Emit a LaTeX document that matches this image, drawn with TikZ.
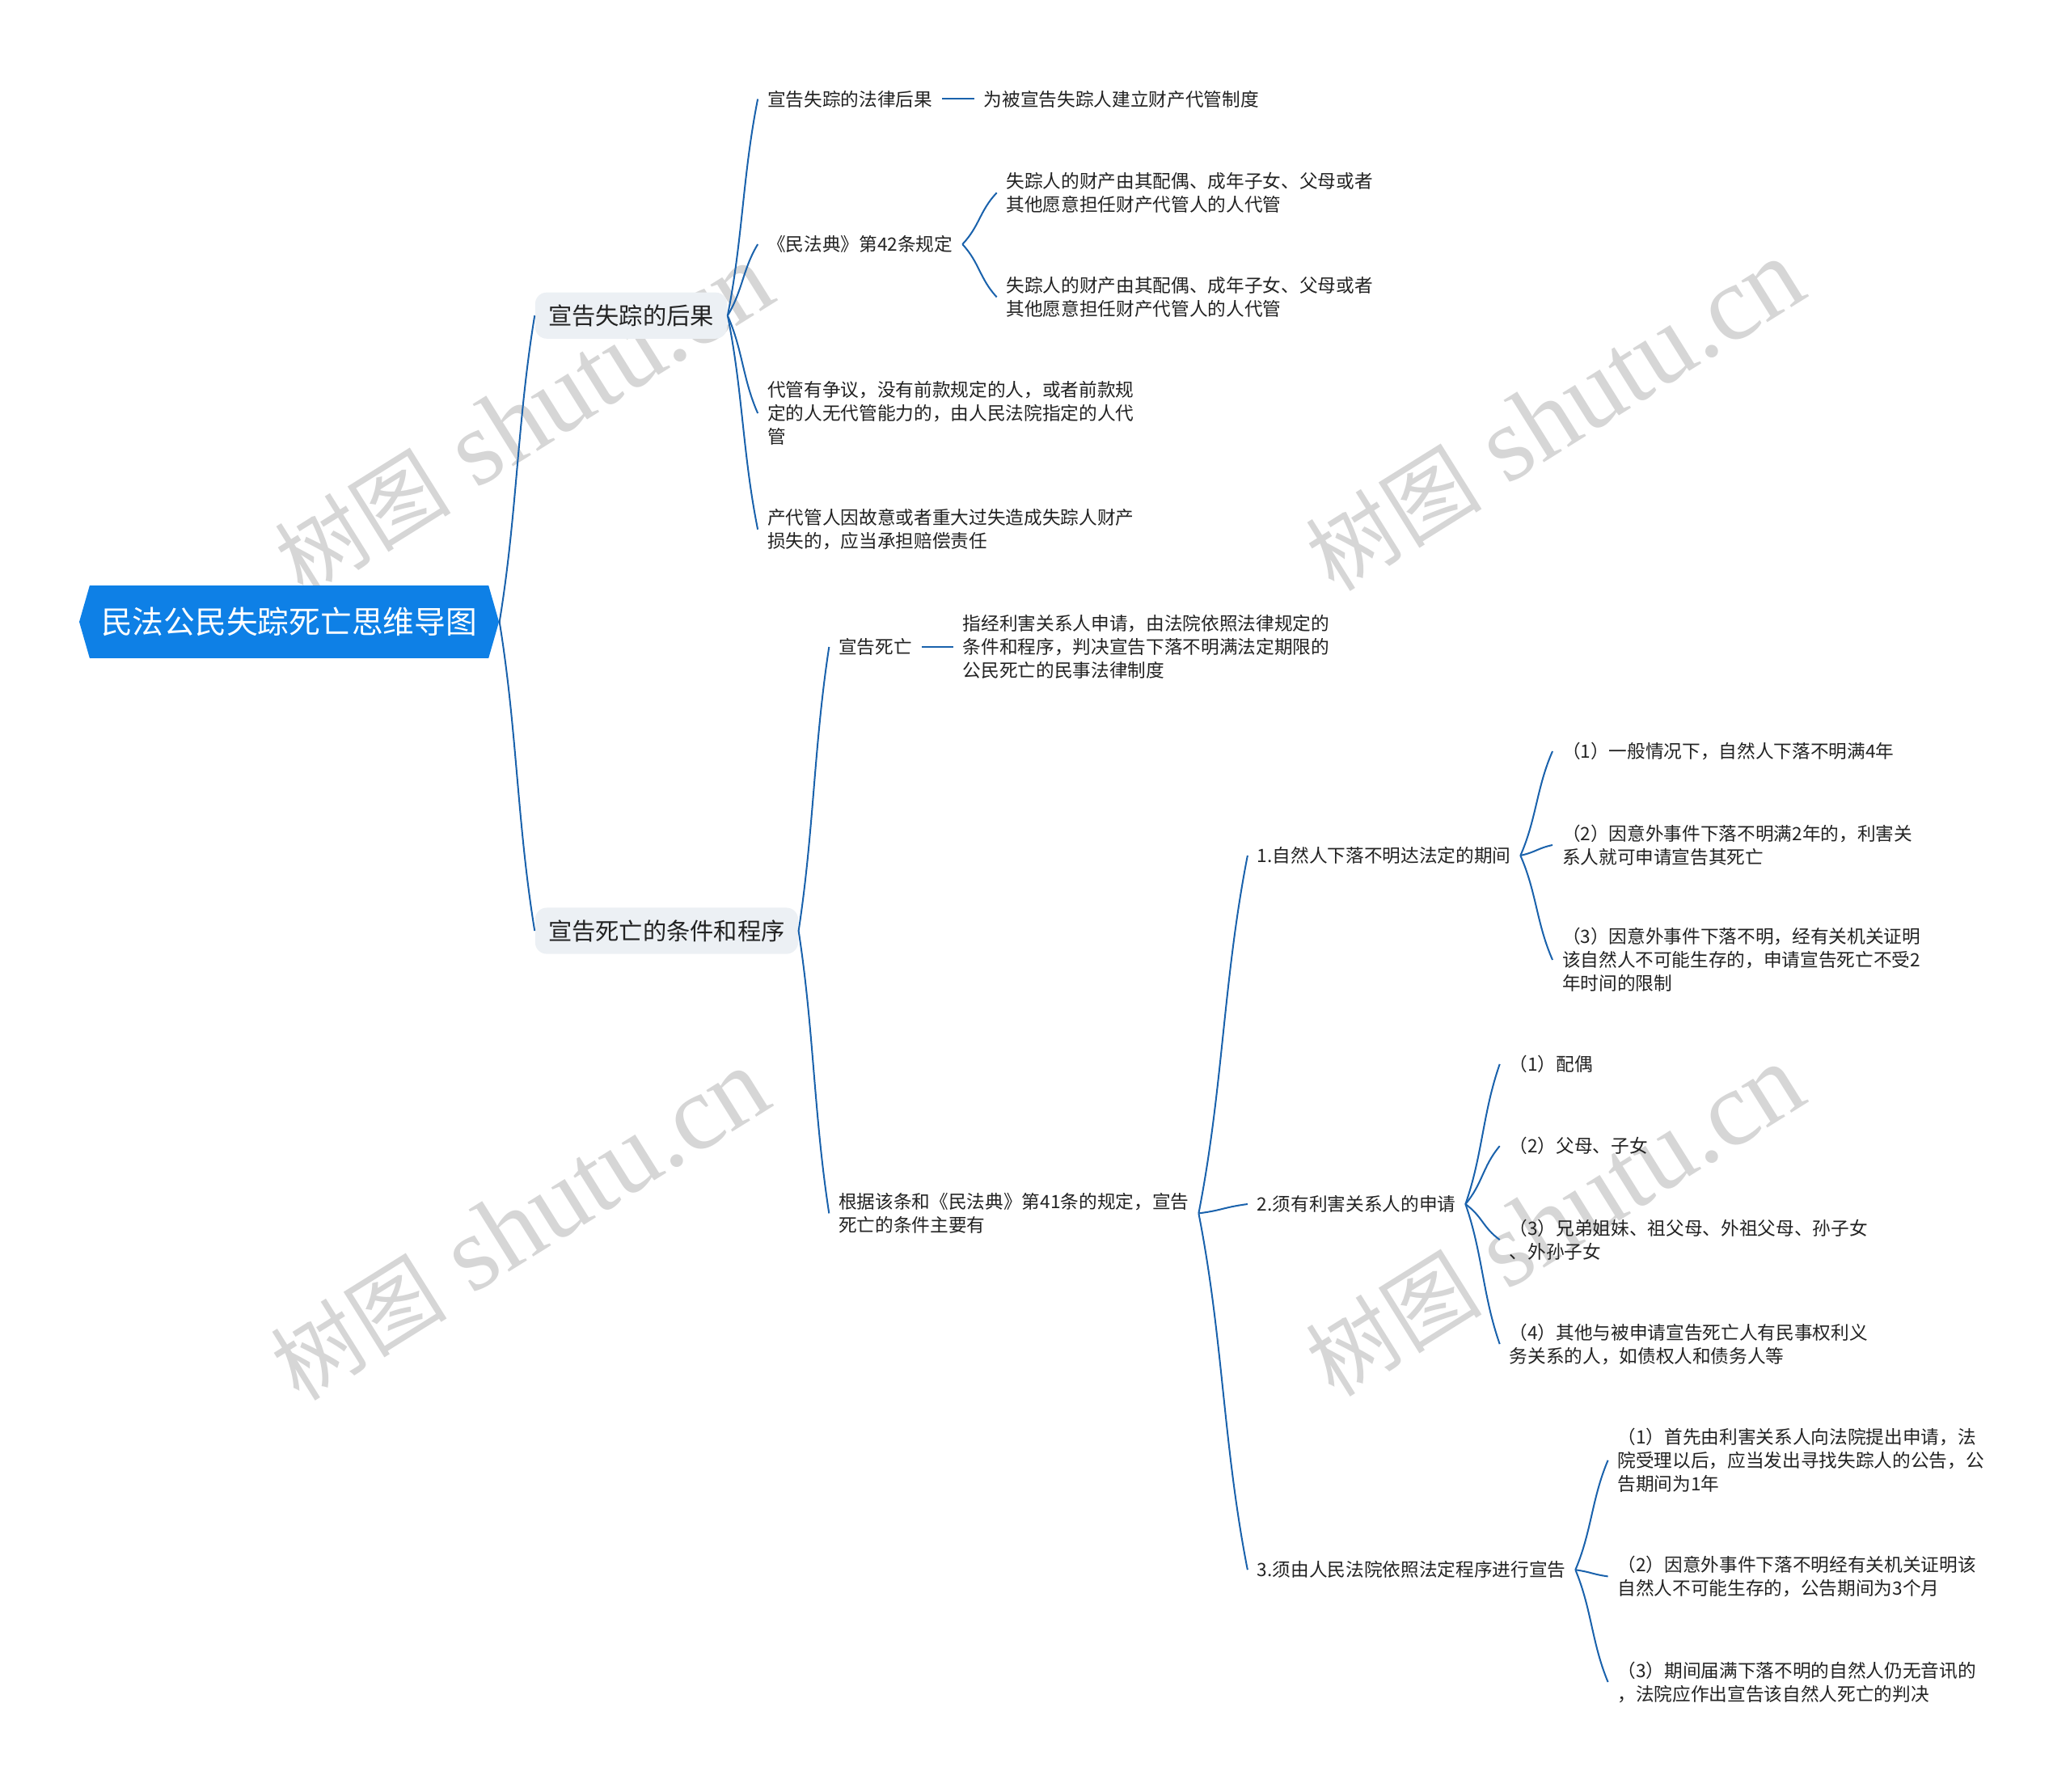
\documentclass[tikz,border=0pt]{standalone}
\usepackage{fontspec}
\usetikzlibrary{shapes.symbols,calc}
\newfontfamily\cjk{Noto Sans CJK SC}
\newfontfamily\wmark{Liberation Serif}
\definecolor{sky}{RGB}{14,128,230}
\definecolor{wire}{RGB}{26,98,172}
\definecolor{mist}{RGB}{236,240,244}
\definecolor{ink}{RGB}{34,34,34}

\tikzset{
  leaf/.style={anchor=west,align=left,inner xsep=0.14cm,inner ysep=2pt,text=ink,
    font=\cjk\fontsize{7.9}{10.1}\selectfont},
  branch/.style={anchor=west,fill=mist,rounded corners=5pt,inner xsep=0.2cm,
    minimum height=0.7cm,text=ink,font=\cjk\fontsize{10.2}{12}\selectfont},
  rootbox/.style={signal,signal to=west and east,signal pointer angle=148,fill=sky,
    text=white,minimum width=6.36cm,minimum height=1.1cm,font=\cjk\fontsize{13.5}{16}\selectfont},
  link/.style={wire,line width=0.7pt,to path={let \p1=(\tikztostart),\p2=(\tikztotarget) in
    .. controls ({\x1+0.5*(\x2-\x1)},{\y1+0.35*(\y2-\y1)})
    and ({\x2-0.5*(\x2-\x1)},{\y2-0.35*(\y2-\y1)}) .. (\tikztotarget)}},
  tie/.style={wire,line width=0.7pt},
  wm/.style={rotate=32,text=black!16,font=\wmark\fontsize{46}{46}\selectfont},
}

\begin{document}
\begin{tikzpicture}[x=0.02cm,y=-0.02cm]
  \useasboundingbox (0,0) rectangle (1568,1357);
  % watermarks
  \foreach \p [count=\i] in {(397,318),(1178,315),(394,928),(1178,925)}
    \node[wm] (wm\i) at \p {{\cjk\fontsize{38}{38}\selectfont 树图} shutu.cn};

  % root and main branches
  \node[rootbox] (root) at (219,471) {民法公民失踪死亡思维导图};
  \node[branch] (lost) at (405,239) {宣告失踪的后果};
  \node[branch] (dead) at (405,705) {宣告死亡的条件和程序};
  \foreach \b in {lost,dead}
    \draw[link] (root.east) to (\b.west);

  % consequences of being declared missing
  \node[leaf] (lostA) at (574,75) {宣告失踪的法律后果};
  \node[leaf] (lostAx) at (738,75) {为被宣告失踪人建立财产代管制度};
  \node[leaf] (lostB) at (574,185) {《民法典》第42条规定};
  \node[leaf] (lostB1) at (755,146) {失踪人的财产由其配偶、成年子女、父母或者\\其他愿意担任财产代管人的人代管};
  \node[leaf] (lostB2) at (755,225) {失踪人的财产由其配偶、成年子女、父母或者\\其他愿意担任财产代管人的人代管};
  \node[leaf] (lostC) at (574,313) {代管有争议，没有前款规定的人，或者前款规\\定的人无代管能力的，由人民法院指定的人代\\管};
  \node[leaf] (lostD) at (574,401) {产代管人因故意或者重大过失造成失踪人财产\\损失的，应当承担赔偿责任};
  \foreach \c in {lostA,lostB,lostC,lostD}
    \draw[link] (lost.east) to (\c.west);
  \draw[tie] (lostA.east) -- (lostAx.west);
  \foreach \c in {lostB1,lostB2}
    \draw[link] (lostB.east) to (\c.west);

  % declaration of death
  \node[leaf] (deadA) at (628,490) {宣告死亡};
  \node[leaf] (deadAx) at (722,490) {指经利害关系人申请，由法院依照法律规定的\\条件和程序，判决宣告下落不明满法定期限的\\公民死亡的民事法律制度};
  \node[leaf] (deadB) at (628,919) {根据该条和《民法典》第41条的规定，宣告\\死亡的条件主要有};
  \foreach \c in {deadA,deadB}
    \draw[link] (dead.east) to (\c.west);
  \draw[tie] (deadA.east) -- (deadAx.west);

  \node[leaf] (cond1) at (945,648) {1.自然人下落不明达法定的期间};
  \node[leaf] (cond2) at (945,912) {2.须有利害关系人的申请};
  \node[leaf] (cond3) at (945,1189) {3.须由人民法院依照法定程序进行宣告};
  \foreach \c in {cond1,cond2,cond3}
    \draw[link] (deadB.east) to (\c.west);

  \node[leaf] (term1) at (1176,569) {（1）一般情况下，自然人下落不明满4年};
  \node[leaf] (term2) at (1176,640) {（2）因意外事件下落不明满2年的，利害关\\系人就可申请宣告其死亡};
  \node[leaf] (term3) at (1176,727) {（3）因意外事件下落不明，经有关机关证明\\该自然人不可能生存的，申请宣告死亡不受2\\年时间的限制};
  \foreach \i in {1,2,3}
    \draw[link] (cond1.east) to (term\i.west);

  \node[leaf] (kin1) at (1136,806) {（1）配偶};
  \node[leaf] (kin2) at (1136,868) {（2）父母、子女};
  \node[leaf] (kin3) at (1136,939) {（3）兄弟姐妹、祖父母、外祖父母、孙子女\\、外孙子女};
  \node[leaf] (kin4) at (1136,1018) {（4）其他与被申请宣告死亡人有民事权利义\\务关系的人，如债权人和债务人等};
  \foreach \i in {1,...,4}
    \draw[link] (cond2.east) to (kin\i.west);

  \node[leaf] (proc1) at (1218,1106) {（1）首先由利害关系人向法院提出申请，法\\院受理以后，应当发出寻找失踪人的公告，公\\告期间为1年};
  \node[leaf] (proc2) at (1218,1194) {（2）因意外事件下落不明经有关机关证明该\\自然人不可能生存的，公告期间为3个月};
  \node[leaf] (proc3) at (1218,1274) {（3）期间届满下落不明的自然人仍无音讯的\\，法院应作出宣告该自然人死亡的判决};
  \foreach \i in {1,2,3}
    \draw[link] (cond3.east) to (proc\i.west);
\end{tikzpicture}
\end{document}
